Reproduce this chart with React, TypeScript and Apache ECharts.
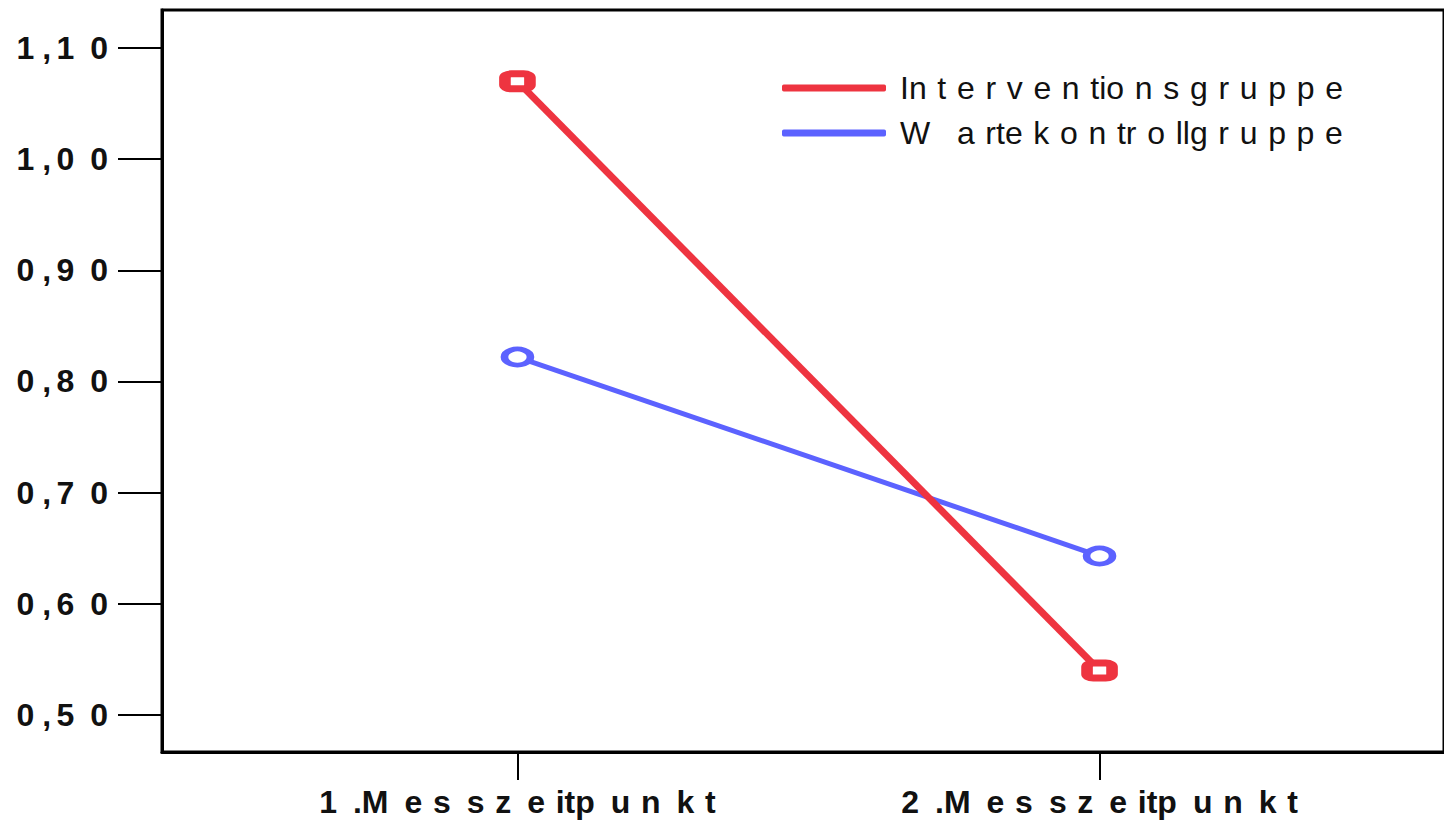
import React, { useEffect, useRef } from "react";
import * as echarts from "echarts";

// \u2002 = en space, \u2004 = three-per-em space, \u2005 = four-per-em space, \u2006 = six-per-em space
const categories = [
  "1\u2002.M\u2002e\u2004s\u2002s\u2004z\u2002e\u2004itp\u2002u\u2004n\u2002k\u2004t",
  "2\u2002.M\u2002e\u2004s\u2002s\u2004z\u2002e\u2004itp\u2002u\u2004n\u2002k\u2004t",
];
const categoryPositions = [1, 2];
const seriesNames = ["Interventionsgruppe", "Wartekontrollgruppe"];
const legendLabels = [
  "In\u2004t\u2004e\u2004r\u2004v\u2004e\u2004n\u2004tio\u2004n\u2004s\u2004g\u2004r\u2004u\u2004p\u2004p\u2004e",
  "W\u2002\u2004a\u2004rte\u2004k\u2004o\u2004n\u2004tr\u2004o\u2004llg\u2004r\u2004u\u2004p\u2004p\u2004e",
];
const seriesColors = ["#EE3440", "#5C62FF"];
const interventionValues = [1.07, 0.54];
const warteValues = [0.822, 0.643];
const yTicks = [0.5, 0.6, 0.7, 0.8, 0.9, 1.0, 1.1];

const fmtY = (v: number) => {
  const s = v.toFixed(2).replace(".", ",");
  return s[0] + "\u2005" + s[1] + "\u2006" + s[2] + "\u2002" + s[3];
};

export default function App() {
  const ref = useRef<HTMLDivElement>(null);
  useEffect(() => {
    if (!ref.current) return;
    const chart = echarts.init(ref.current, undefined, { renderer: "svg" });
    const font = "'Liberation Sans', Arial, Helvetica, sans-serif";
    chart.setOption({
      animation: false,
      backgroundColor: "#ffffff",
      grid: {
        left: 162,
        top: 10,
        right: -4,
        bottom: 69,
        show: true,
        borderColor: "#000",
        borderWidth: 3,
        backgroundColor: "transparent",
      },
      legend: {
        orient: "vertical",
        left: 782,
        top: 71,
        padding: 0,
        itemWidth: 104,
        itemHeight: 7,
        itemGap: 11,
        icon: "roundRect",
        data: seriesNames.map((n, i) => ({
          name: n,
          itemStyle: { color: seriesColors[i], borderWidth: 0 },
        })),
        formatter: (name: string) => legendLabels[seriesNames.indexOf(name)],
        textStyle: {
          fontFamily: font,
          fontSize: 32,
          lineHeight: 34,
          color: "#111",
          padding: [0, 0, 0, 9],
        },
      },
      xAxis: {
        type: "value",
        min: 1 - 356 / 583,
        max: 1 - 356 / 583 + 1284 / 583,
        splitLine: { show: false },
        axisLine: { show: true, lineStyle: { color: "#000", width: 3 } },
        axisTick: {
          show: true,
          customValues: categoryPositions,
          length: 28,
          lineStyle: { color: "#000", width: 2 },
        },
        axisLabel: {
          customValues: categoryPositions,
          formatter: (v: number) => categories[categoryPositions.indexOf(Math.round(v))] ?? "",
          margin: 34,
          fontFamily: font,
          fontWeight: "bold",
          fontSize: 32,
          color: "#111",
        },
      },
      yAxis: {
        type: "value",
        min: 0.5 - 37 / 1112,
        max: 1.1 + 38 / 1112,
        splitLine: { show: false },
        axisLine: { show: true, lineStyle: { color: "#000", width: 3 } },
        axisTick: {
          show: true,
          customValues: yTicks,
          length: 44,
          lineStyle: { color: "#000", width: 2 },
        },
        axisLabel: {
          customValues: yTicks,
          formatter: (v: number) => fmtY(v),
          margin: 54,
          fontFamily: font,
          fontWeight: "bold",
          fontSize: 32,
          color: "#111",
        },
      },
      series: [
        {
          name: seriesNames[0],
          type: "line",
          data: categoryPositions.map((x, i) => [x, interventionValues[i]]),
          color: seriesColors[0],
          lineStyle: { color: seriesColors[0], width: 7 },
          symbol: "roundRect",
          symbolSize: [25, 15],
          itemStyle: { color: "#fff", borderColor: seriesColors[0], borderWidth: 9 },
          z: 3,
        },
        {
          name: seriesNames[1],
          type: "line",
          data: categoryPositions.map((x, i) => [x, warteValues[i]]),
          color: seriesColors[1],
          lineStyle: { color: seriesColors[1], width: 5 },
          symbol: "circle",
          symbolSize: [26, 16],
          itemStyle: { color: "#fff", borderColor: seriesColors[1], borderWidth: 6 },
          z: 2,
        },
      ],
    });
    return () => chart.dispose();
  }, []);
  return (
    <div
      ref={ref}
      style={{ position: "fixed", left: 0, top: 0, width: 1444, height: 821, background: "#fff" }}
    />
  );
}
